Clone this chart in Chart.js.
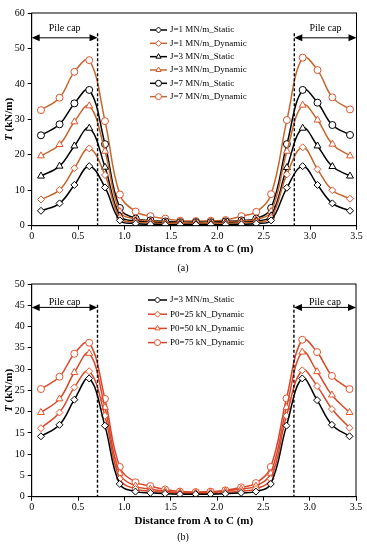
<!DOCTYPE html>
<html><head><meta charset="utf-8">
<script src="https://cdn.jsdelivr.net/npm/chart.js@4/dist/chart.umd.min.js"></script>
<style>
html,body{margin:0;padding:0;background:#fff;}
.box{position:relative;width:367px;height:275px;}
</style></head><body>
<div class="box"><canvas id="c1"></canvas></div>
<div class="box"><canvas id="c2"></canvas></div>
<script>
// ---- data ----
const distance = [0.10, 0.30, 0.46, 0.62, 0.79, 0.95, 1.12, 1.28, 1.44, 1.60, 1.77, 1.93, 2.09, 2.26, 2.42, 2.58, 2.75, 2.92, 3.08, 3.24, 3.43];

const labelsA = ['J=1 MN/m_Static', 'J=1 MN/m_Dynamic', 'J=3 MN/m_Static', 'J=3 MN/m_Dynamic', 'J=7 MN/m_Static', 'J=7 MN/m_Dynamic'];
const j1Static  = [4.2, 6.3, 11.5, 16.8, 10.8, 1.5, 0.6, 0.4, 0.3, 0.3, 0.3, 0.3, 0.3, 0.4, 0.6, 1.5, 10.7, 16.8, 11.5, 6.3, 4.2];
const j1Dynamic = [7.4, 10.1, 16.2, 21.8, 14.3, 2.2, 1.0, 0.8, 0.6, 0.5, 0.5, 0.5, 0.6, 0.8, 1.0, 2.2, 14.5, 22.1, 15.9, 10.0, 7.6];
const j3Static  = [14.0, 16.8, 22.5, 27.5, 16.5, 2.8, 1.3, 1.0, 0.8, 0.6, 0.6, 0.6, 0.8, 1.0, 1.3, 2.8, 16.4, 27.5, 22.5, 16.7, 14.0];
const j3Dynamic = [19.7, 22.9, 29.3, 33.8, 21.0, 4.0, 1.8, 1.3, 1.0, 0.9, 0.8, 0.9, 1.0, 1.3, 1.8, 4.0, 21.0, 34.0, 29.8, 23.0, 19.7];
const j7Static  = [25.5, 28.6, 34.5, 38.3, 23.0, 5.0, 2.0, 1.5, 1.2, 1.0, 1.0, 1.0, 1.2, 1.5, 2.0, 5.0, 23.0, 38.3, 34.7, 28.4, 25.6];
const j7Dynamic = [32.6, 36.1, 43.4, 46.7, 29.5, 8.8, 4.0, 2.7, 2.0, 1.4, 1.3, 1.4, 1.6, 2.7, 3.9, 8.9, 29.8, 47.4, 43.9, 36.2, 32.8];

const labelsB = ['J=3 MN/m_Static', 'P0=25 kN_Dynamic', 'P0=50 kN_Dynamic', 'P0=75 kN_Dynamic'];
const bStatic = [14.2, 16.9, 22.8, 27.8, 16.7, 3.0, 1.2, 0.9, 0.7, 0.6, 0.6, 0.6, 0.7, 0.9, 1.2, 3.0, 16.7, 27.8, 22.7, 16.9, 14.2];
const p0_25   = [16.1, 19.8, 25.7, 29.5, 19.0, 4.2, 1.8, 1.3, 1.0, 0.8, 0.8, 0.8, 1.0, 1.3, 1.8, 4.2, 19.0, 29.7, 26.0, 20.6, 16.2];
const p0_50   = [19.8, 23.0, 29.2, 33.7, 21.0, 5.5, 2.5, 1.8, 1.3, 1.0, 0.9, 1.0, 1.3, 1.8, 2.5, 5.5, 21.0, 34.0, 29.4, 23.9, 19.8];
const p0_75   = [25.3, 28.2, 33.6, 36.2, 23.0, 7.0, 3.4, 2.5, 1.7, 1.2, 1.1, 1.2, 1.5, 2.2, 3.2, 7.0, 23.1, 36.9, 34.0, 28.4, 25.3];

const xTitle = 'Distance from A to C (m)';
const yTitleVar = 'T';
const yTitleUnit = ' (kN/m)';
const pileCapLabel = 'Pile cap';
const pileCapEdges = [0.71, 2.83];
const captions = ['(a)', '(b)'];

// ---- styling ----
const FONT = "'Liberation Serif', 'Times New Roman', serif";
const BLACK = '#000000';
const BROWN = '#C4672E';
const BROWN_PT = '#E0552E';
const RED = '#D9462A';
const RED_PT = '#E4572E';

function pts(arr) { return distance.map((x, i) => ({ x: x, y: arr[i] })); }

function ds(label, arr, color, ptColor, style) {
  return {
    label: label, data: pts(arr),
    borderColor: color, borderWidth: 1.5,
    pointStyle: style, pointRadius: style === 'triangle' ? 4 : 3.5,
    pointBorderColor: ptColor, pointBackgroundColor: '#ffffff', pointBorderWidth: 1,
    tension: 0.4, fill: false
  };
}

function overlayPlugin(cfg) {
  return {
    id: 'overlay' + cfg.caption,
    afterDraw(chart) {
      const ctx = chart.ctx, a = chart.chartArea;
      const xs = chart.scales.x, ys = chart.scales.y;
      ctx.save();
      // frame
      ctx.strokeStyle = BLACK; ctx.lineWidth = 1;
      ctx.strokeRect(a.left, a.top, a.right - a.left, a.bottom - a.top);
      // dashed pile-cap edges
      ctx.setLineDash([3, 2]); ctx.lineWidth = 1.4;
      pileCapEdges.forEach(v => {
        const px = xs.getPixelForValue(v);
        ctx.beginPath(); ctx.moveTo(px, ys.getPixelForValue(cfg.dashTop)); ctx.lineTo(px, a.bottom); ctx.stroke();
      });
      ctx.setLineDash([]);
      // arrows
      const ay = ys.getPixelForValue(cfg.arrowY);
      function arrow(x1, x2) {
        ctx.lineWidth = 1; ctx.strokeStyle = BLACK; ctx.fillStyle = BLACK;
        ctx.beginPath(); ctx.moveTo(x1 + 5, ay); ctx.lineTo(x2 - 5, ay); ctx.stroke();
        ctx.beginPath(); ctx.moveTo(x1, ay); ctx.lineTo(x1 + 8, ay - 3.5); ctx.lineTo(x1 + 8, ay + 3.5); ctx.closePath(); ctx.fill();
        ctx.beginPath(); ctx.moveTo(x2, ay); ctx.lineTo(x2 - 8, ay - 3.5); ctx.lineTo(x2 - 8, ay + 3.5); ctx.closePath(); ctx.fill();
        ctx.font = '10px ' + FONT; ctx.textAlign = 'center'; ctx.textBaseline = 'middle';
        ctx.fillText(pileCapLabel, (x1 + x2) / 2, ay - cfg.textGap);
      }
      arrow(a.left, xs.getPixelForValue(pileCapEdges[0]));
      arrow(xs.getPixelForValue(pileCapEdges[1]), a.right);
      // legend
      chart.data.datasets.forEach((d, i) => {
        const y = cfg.legY + i * cfg.legDy;
        ctx.strokeStyle = d.borderColor; ctx.lineWidth = 1.5;
        ctx.beginPath(); ctx.moveTo(cfg.legX0, y); ctx.lineTo(cfg.legX1, y); ctx.stroke();
        ctx.strokeStyle = d.pointBorderColor; ctx.fillStyle = '#ffffff'; ctx.lineWidth = 1;
        Chart.helpers.drawPoint(ctx, { pointStyle: d.pointStyle, radius: 3, rotation: 0, borderWidth: 1 }, (cfg.legX0 + cfg.legX1) / 2, y);
        ctx.fillStyle = BLACK; ctx.font = '9px ' + FONT; ctx.textAlign = 'left'; ctx.textBaseline = 'middle';
        ctx.fillText(d.label, cfg.legX1 + 3, y);
      });
      // y title
      ctx.save();
      ctx.translate(9, (a.top + a.bottom) / 2);
      ctx.rotate(-Math.PI / 2);
      ctx.textBaseline = 'middle'; ctx.fillStyle = BLACK;
      ctx.font = 'italic bold 11px ' + FONT;
      const w1 = ctx.measureText(yTitleVar).width;
      ctx.font = 'bold 11px ' + FONT;
      const w2 = ctx.measureText(yTitleUnit).width;
      const sx = -(w1 + w2) / 2;
      ctx.textAlign = 'left';
      ctx.font = 'italic bold 11px ' + FONT; ctx.fillText(yTitleVar, sx, 0);
      ctx.font = 'bold 11px ' + FONT; ctx.fillText(yTitleUnit, sx + w1, 0);
      ctx.restore();
      // caption
      ctx.fillStyle = BLACK; ctx.font = '10px ' + FONT; ctx.textAlign = 'center'; ctx.textBaseline = 'middle';
      ctx.fillText(cfg.caption, cfg.capX, cfg.capY);
      ctx.restore();
    }
  };
}

function makeChart(id, datasets, yMax, yStep, cfg) {
  return new Chart(document.getElementById(id), {
    type: 'line',
    data: { datasets: datasets },
    plugins: [overlayPlugin(cfg)],
    options: {
      responsive: true, maintainAspectRatio: false, animation: false, devicePixelRatio: 1,
      layout: { padding: cfg.padding },
      plugins: { legend: { display: false }, tooltip: { enabled: false }, title: { display: false } },
      scales: {
        x: {
          type: 'linear', min: 0, max: 3.5,
          ticks: { stepSize: 0.5, color: BLACK, font: { family: FONT, size: 10 }, padding: 1, maxRotation: 0 },
          grid: { drawOnChartArea: false, drawTicks: true, tickLength: 4, color: BLACK },
          border: { display: true, color: BLACK, width: 1 },
          title: { display: true, text: xTitle, color: BLACK, font: { family: FONT, size: 11, weight: 'bold' }, padding: { top: 0, bottom: 0 } },
          afterFit(s) { s.height = cfg.xHeight; }
        },
        y: {
          min: 0, max: yMax,
          ticks: { stepSize: yStep, color: BLACK, font: { family: FONT, size: 10 }, padding: 3 },
          grid: { drawOnChartArea: false, drawTicks: true, tickLength: 4, color: BLACK },
          border: { display: true, color: BLACK, width: 1 },
          afterFit(s) { s.width = 31.7; }
        }
      }
    }
  });
}

makeChart('c1', [
  ds(labelsA[0], j1Static, BLACK, BLACK, 'rectRot'),
  ds(labelsA[1], j1Dynamic, BROWN, BROWN_PT, 'rectRot'),
  ds(labelsA[2], j3Static, BLACK, BLACK, 'triangle'),
  ds(labelsA[3], j3Dynamic, BROWN, BROWN_PT, 'triangle'),
  ds(labelsA[4], j7Static, BLACK, BLACK, 'circle'),
  ds(labelsA[5], j7Dynamic, BROWN, BROWN_PT, 'circle')
], 60, 10, {
  caption: captions[0], capX: 183, capY: 268,
  padding: { top: 13, right: 10.5, left: 0, bottom: 19.3 }, xHeight: 30,
  dashTop: 54.3, arrowY: 53, textGap: 9,
  legX0: 150, legX1: 167, legY: 30, legDy: 13.33
});

makeChart('c2', [
  ds(labelsB[0], bStatic, BLACK, BLACK, 'rectRot'),
  ds(labelsB[1], p0_25, RED, RED_PT, 'rectRot'),
  ds(labelsB[2], p0_50, RED, RED_PT, 'triangle'),
  ds(labelsB[3], p0_75, RED, RED_PT, 'circle')
], 50, 5, {
  caption: captions[1], capX: 183, capY: 262,
  padding: { top: 7.3, right: 11, left: 0, bottom: 22.3 }, xHeight: 31,
  dashTop: 45.1, arrowY: 44.5, textGap: 5,
  legX0: 148, legX1: 167, legY: 25, legDy: 14.2
});
</script>
</body></html>
